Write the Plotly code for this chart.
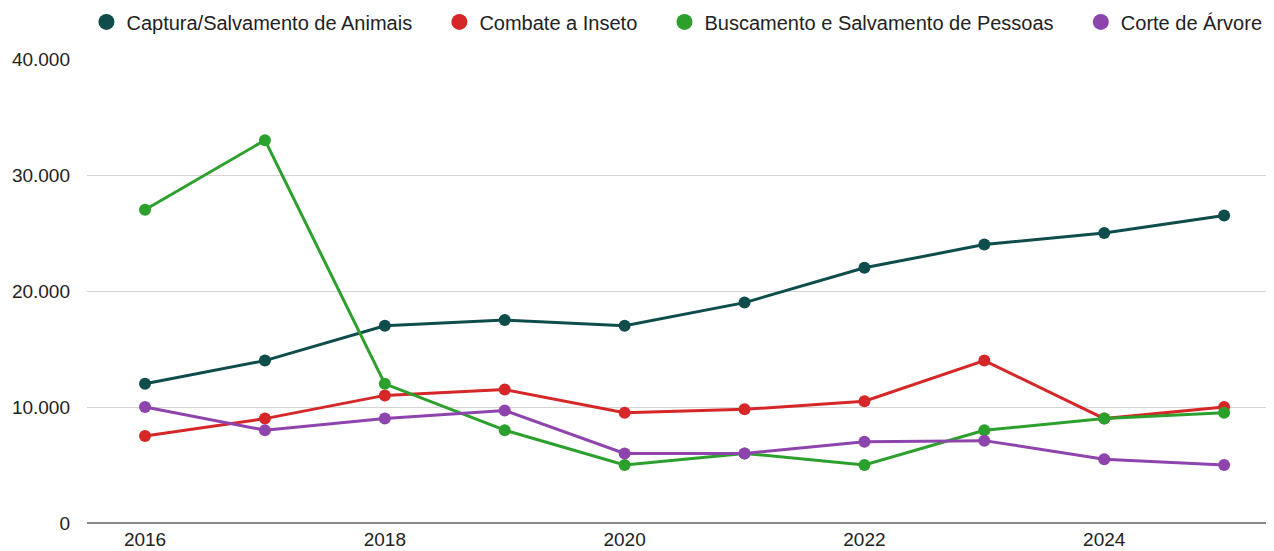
import plotly.graph_objects as go

anos = [2016, 2017, 2018, 2019, 2020, 2021, 2022, 2023, 2024, 2025]

captura_animais = [12000, 14000, 17000, 17500, 17000, 19000, 22000, 24000, 25000, 26500]
combate_inseto = [7500, 9000, 11000, 11500, 9500, 9800, 10500, 14000, 9000, 10000]
busca_pessoas = [27000, 33000, 12000, 8000, 5000, 6000, 5000, 8000, 9000, 9500]
corte_arvore = [10000, 8000, 9000, 9700, 6000, 6000, 7000, 7100, 5500, 5000]

series = [
    ("Captura/Salvamento de Animais", captura_animais, "#0f4c4c"),
    ("Combate a Inseto", combate_inseto, "#d62728"),
    ("Buscamento e Salvamento de Pessoas", busca_pessoas, "#2ca02c"),
    ("Corte de Árvore", corte_arvore, "#8e44ad"),
]

fig = go.Figure()

for nome, valores, cor in series:
    fig.add_trace(go.Scatter(
        x=anos, y=valores,
        mode="lines+markers",
        name=nome,
        line=dict(color=cor, width=3),
        marker=dict(color=cor, size=12),
        showlegend=False,
    ))

# legend entries: circles only (nbsp padding widens the gap between entries)
for i, (nome, valores, cor) in enumerate(series):
    pad = "" if i == len(series) - 1 else "\u00a0" * 4
    fig.add_trace(go.Scatter(
        x=[None], y=[None],
        mode="markers",
        name=nome + pad,
        marker=dict(color=cor, size=16),
    ))

# the page body adds an 8px offset, so the figure is 8px smaller on each side
fig.update_layout(
    width=1266, height=543,
    margin=dict(l=79, r=0, t=51, b=28, autoexpand=False),
    plot_bgcolor="white",
    paper_bgcolor="white",
    font=dict(family="Liberation Sans, Arial, sans-serif", size=19, color="#222"),
    separators=",.",
    legend=dict(
        orientation="h",
        x=0.497, xanchor="center",
        y=1.08, yanchor="middle",
        font=dict(size=20),
        itemsizing="trace",
    ),
    xaxis=dict(
        range=[2015.516, 2025.416],
        tickmode="array",
        tickvals=[2016, 2018, 2020, 2022, 2024],
        showgrid=False,
        zeroline=False,
        ticks="",
        ticklabelstandoff=3,
        automargin=False,
    ),
    yaxis=dict(
        range=[0, 40000],
        tickvals=[0, 10000, 20000, 30000, 40000],
        tickformat=",d",
        gridcolor="#d3d3d3",
        gridwidth=1,
        zeroline=True,
        zerolinecolor="#888",
        zerolinewidth=1.5,
        ticklabelstandoff=16,
        automargin=False,
    ),
)

fig.write_html("out.html")
